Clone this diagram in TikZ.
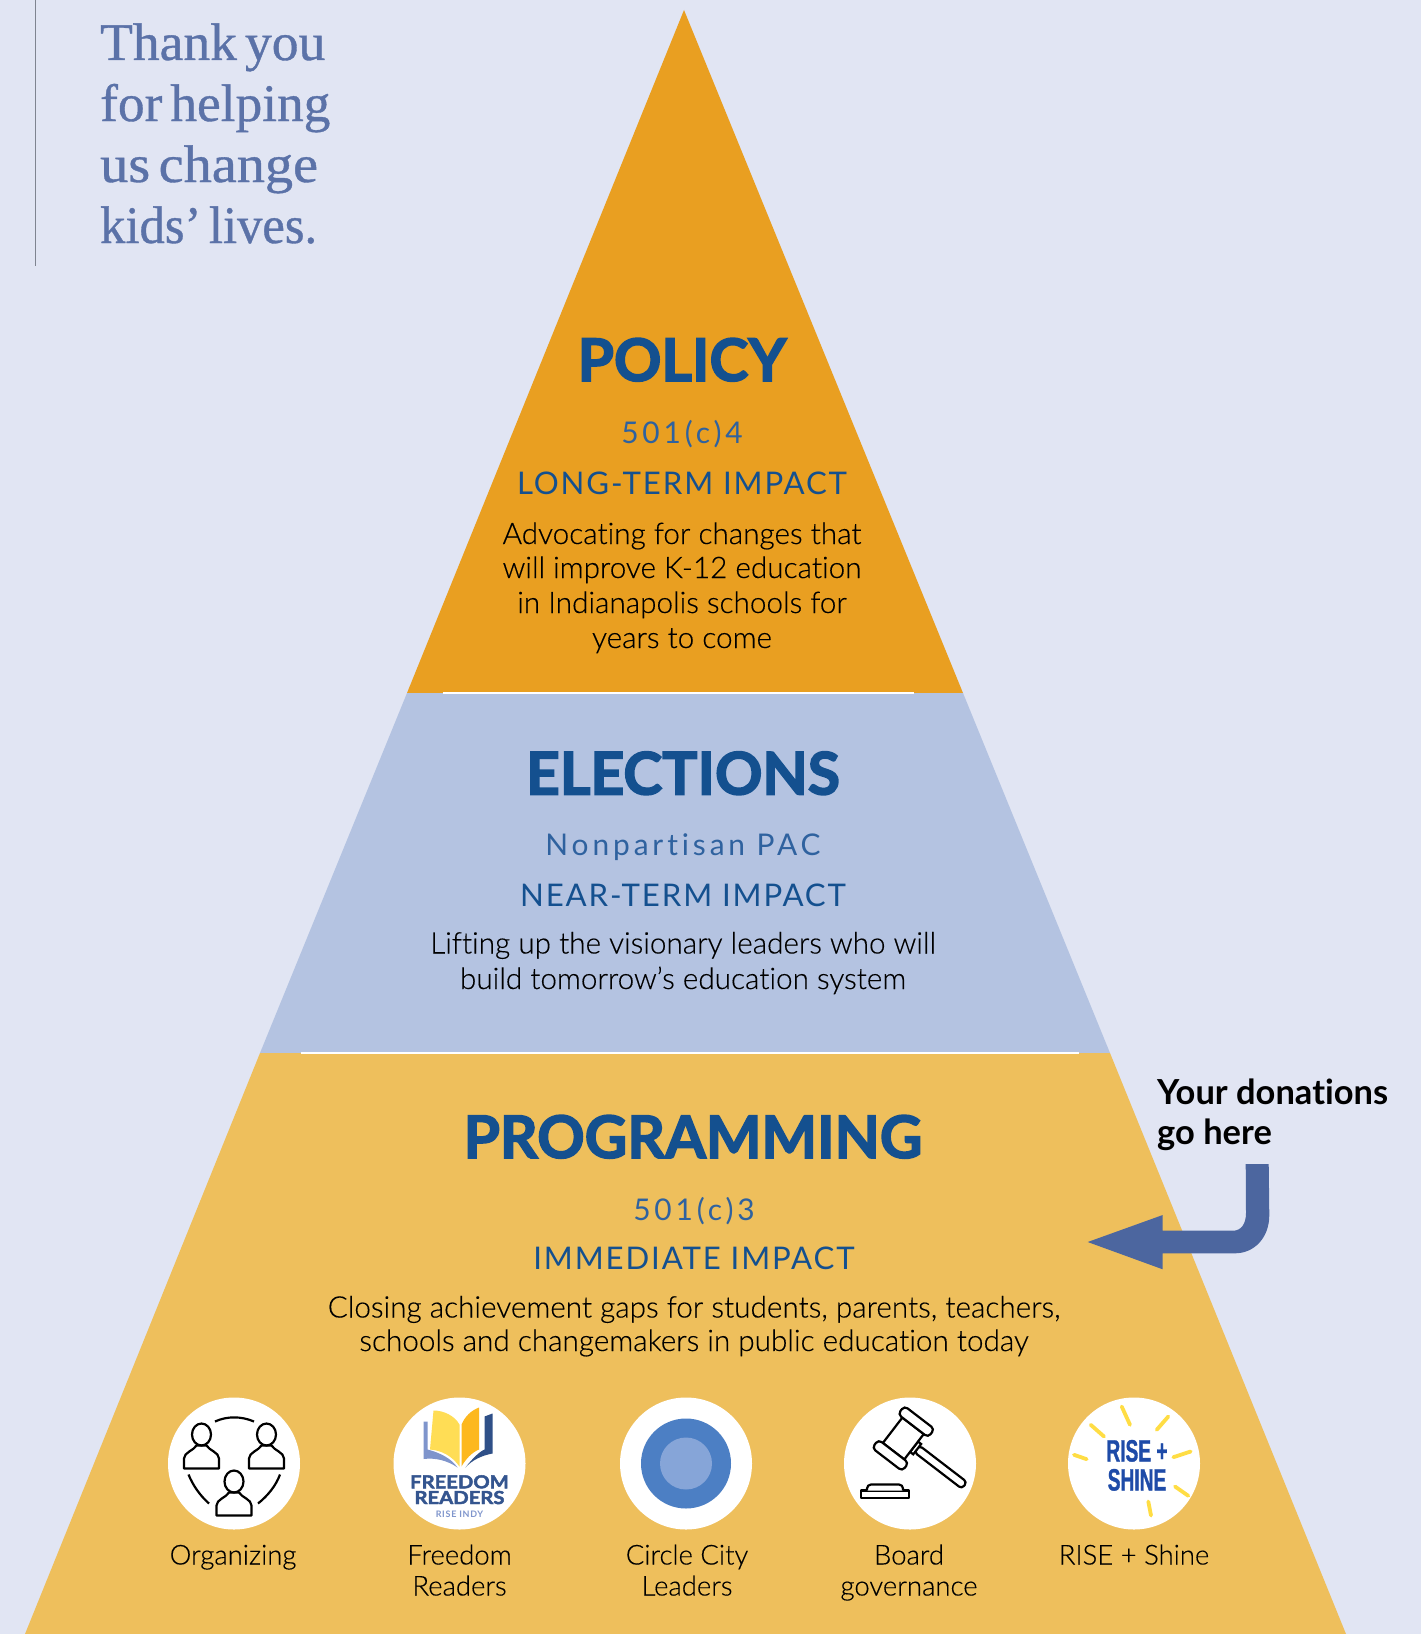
\documentclass[tikz,border=0pt]{standalone}
\usepackage{fontspec}
\setmainfont[Ligatures=NoCommon]{Lato}
\newfontfamily\spacedfont[LetterSpace=6,Ligatures=NoCommon]{Lato}
\newfontfamily\subfont[LetterSpace=13,Ligatures=NoCommon]{Lato}
\newfontfamily\lightfont[Ligatures=NoCommon,FakeBold=0.3]{Lato Light}
\newfontfamily\titlefont[FakeBold=2.6]{Lato Bold}
\newfontfamily\smallheavy[FakeBold=2.5,FakeStretch=1.13]{Lato Bold}
\newfontfamily\tinyheavy[LetterSpace=8]{Lato Bold}
\newfontfamily\serifhead[FakeBold=0.7,WordSpace=0.6]{Liberation Serif}
\newfontfamily\condfont[FakeStretch=0.62,FakeBold=1]{Liberation Sans Bold}
\definecolor{bgc}{HTML}{E1E5F3}
\definecolor{policyc}{HTML}{E99F21}
\definecolor{electc}{HTML}{B4C3E1}
\definecolor{progc}{HTML}{EEBF5C}
\definecolor{titlec}{HTML}{14508F}
\definecolor{subc}{HTML}{2F629F}
\definecolor{arrowc}{HTML}{4C669F}
\definecolor{thankc}{HTML}{5B72A8}
\definecolor{rulec}{HTML}{7F8490}
\definecolor{bookA}{HTML}{FFDD55}
\definecolor{bookB}{HTML}{FDB81E}
\definecolor{bookC}{HTML}{2F5088}
\definecolor{bookD}{HTML}{7F95CC}
\definecolor{frc}{HTML}{34558F}
\definecolor{ccA}{HTML}{4C7FC4}
\definecolor{ccB}{HTML}{86A5D8}
\definecolor{sunc}{HTML}{FFDD44}
\definecolor{risec}{HTML}{1E4BA8}
\newcommand{\fsz}[2]{\fontsize{#1}{#2}\selectfont}
\tikzset{
  lbl/.style={inner sep=0pt,outer sep=0pt,anchor=base,align=center},
  bigtitle/.style={lbl,text=titlec,font=\titlefont\fsz{59}{64}},
  subline/.style={lbl,text=subc,font=\subfont\fsz{30}{34}},
  impact/.style={lbl,text=titlec,font=\spacedfont\fsz{31.3}{34}},
  para/.style={lbl,text=black,font=\lightfont\fsz{29.8}{34}},
  captxt/.style={lbl,text=black,font=\lightfont\fsz{27.6}{31}},
  thanks/.style={inner sep=0pt,anchor=base west,text=thankc,font=\serifhead\fsz{53}{60}},
  disc/.style={circle,fill=white,draw=none,minimum size=132bp,inner sep=0pt},
  ico/.style={line width=2.2bp,draw=black,fill=none},
  ray/.style={line width=3.8bp,draw=sunc,line cap=round},
}
\begin{document}
\begin{tikzpicture}[x=1bp,y=-1bp]
\useasboundingbox (0,0) rectangle (1421,1634);
\fill[bgc] (0,0) rectangle (1421,1634);
% pyramid
\fill[policyc] (684,10) -- (963,693) -- (407,693) -- cycle;
\fill[electc] (963,693) -- (1110,1053) -- (260,1053) -- (407,693) -- cycle;
\fill[progc] (1110,1053) -- (1346,1634) -- (25,1634) -- (260,1053) -- cycle;
\draw[white,line width=1.6bp] (443,693) -- (914,693);
\draw[white,line width=1.6bp] (301,1053) -- (1079,1053);
% rule + thanks
\draw[rulec,line width=1bp] (35,0) -- (35,266);
\node[thanks] (thanka) at (100,60) {\scalebox{1.014}[1]{Thank you}};
\node[thanks] (thankb) at (100,121) {\scalebox{1.01}[1]{for helping}};
\node[thanks] (thankc) at (100,182) {\scalebox{1.066}[1]{us change}};
\node[thanks] (thankd) at (100,243) {\scalebox{0.958}[1]{kids’ lives.}};
% policy
\node[bigtitle] (policy) at (682,381) {POLICY};
\node[subline] (policysub) at (682,443) {501(c)4};
\node[impact] (policyimp) at (682,494) {LONG-TERM IMPACT};
\node[para] (policytxt) at (682,544) {Advocating for changes that};
\node[para] (policytxtb) at (682,578) {will improve K-12 education};
\node[para] (policytxtc) at (682,613) {in Indianapolis schools for};
\node[para] (policytxtd) at (682,648) {years to come};
% elections
\node[bigtitle] (elect) at (683,794.5) {ELECTIONS};
\node[subline] (electsub) at (683,855) {Nonpartisan PAC};
\node[impact] (electimp) at (683,906) {NEAR-TERM IMPACT};
\node[para] (electtxt) at (683,953.5) {Lifting up the visionary leaders who will};
\node[para] (electtxtb) at (683,989) {build tomorrow’s education system};
% programming
\node[bigtitle] (prog) at (693,1158) {PROGRAMMING};
\node[subline] (progsub) at (694,1220) {501(c)3};
\node[impact] (progimp) at (694,1269.5) {IMMEDIATE IMPACT};
\node[para] (progtxt) at (694,1317.5) {Closing achievement gaps for students, parents, teachers,};
\node[para] (progtxtb) at (694,1351) {schools and changemakers in public education today};
% discs
\node[disc] (d1) at (234,1463.5) {};
\node[disc] (d2) at (459.5,1463.5) {};
\node[disc] (d3) at (686,1463.5) {};
\node[disc] (d4) at (910,1463.5) {};
\node[disc] (d5) at (1134,1463.5) {};
% captions
\node[captxt] (c1) at (233,1564.5) {Organizing};
\node[captxt] (c2) at (459.5,1564.5) {Freedom};
\node[captxt] (c2b) at (459.5,1595.5) {Readers};
\node[captxt] (c3) at (687,1564.5) {Circle City};
\node[captxt] (c3b) at (687,1595.5) {Leaders};
\node[captxt] (c4) at (909,1564.5) {Board};
\node[captxt] (c4b) at (909,1595.5) {governance};
\node[captxt] (c5) at (1134,1564.5) {RISE + Shine};
% organizing icon
\begin{scope}[shift={(d1.center)}]
 \foreach \cx/\cy in {-32.5/-29, 32.5/-29, 0/18}{
  \begin{scope}[shift={(\cx,\cy)}]
   \draw[ico] (0,0) ellipse (9.5bp and 11bp);
   \draw[ico,line join=round] (-17.5,34) -- (-17.5,24) .. controls (-17.5,18) and (-8,16) .. (-5,11) -- (5,11) .. controls (8,16) and (17.5,18) .. (17.5,24) -- (17.5,34) -- cycle;
  \end{scope}
 }
 \draw[ico] (-19,-42) .. controls (-7,-47.5) and (7,-47.5) .. (20,-42);
 \draw[ico] (-45.5,11) .. controls (-41,22) and (-34,32) .. (-25,40);
 \draw[ico] (46,11) .. controls (42,22) and (34,32) .. (24,40);
\end{scope}
% freedom readers icon
\begin{scope}[shift={(d2.center)}]
 \fill[bookD] (-36,-42) -- (-32,-42) -- (-32,-14) .. controls (-20,-11) and (-8,-5) .. (-2,4) .. controls (-12,-3) and (-24,-6) .. (-36,-4.5) -- cycle;
 \fill[bookC] (33,-50) -- (33,-10) .. controls (22,-8) and (12,-3) .. (6,4) .. controls (12,-4) and (20,-12) .. (25,-14) -- (25,-47) -- cycle;
 \fill[bookA] (-26,-53) .. controls (-16,-53) and (-5,-48) .. (0,-39) -- (0,3) .. controls (-8,-8) and (-18,-13) .. (-29.5,-14) -- cycle;
 \fill[bookB] (19.5,-56) -- (19.5,-14) .. controls (12,-11) and (6,-4) .. (2,3) -- (2,-39) .. controls (6,-48) and (12,-53) .. (19.5,-56) -- cycle;
 \node[inner sep=0pt,anchor=base,text=frc,text height=8bp,font=\smallheavy\fsz{18}{20}] (frA) at (0,24.8) {FREEDOM};
 \node[inner sep=0pt,anchor=base,text=frc,text height=8bp,font=\smallheavy\fsz{18}{20}] (frB) at (0,40.5) {READERS};
 \node[inner sep=0pt,anchor=base,text=bookD,font=\tinyheavy\fsz{9}{10}] (frC) at (0,53.7) {RISE INDY};
\end{scope}
% circle city icon
\fill[ccA] (d3.center) circle (45bp);
\fill[ccB] (d3.center) circle (26bp);
% gavel icon
\begin{scope}[shift={(d4.center)}]
 \draw[ico,fill=white,line join=round] (-49,27) rectangle (-1,34.7);
 \draw[ico,fill=white,rounded corners=4bp] (-43,27) -- (-43,21) -- (-7,21) -- (-7,27);
 \begin{scope}[shift={(-6.7,-25)},rotate=-37.5]
  \draw[ico,fill=white,rounded corners=3.5bp] (17,-4.2) rectangle (77,4.2);
  \draw[ico,fill=white] (13.5,-6.5) rectangle (17.5,6.5);
  \draw[ico,fill=white] (-13.5,-16) rectangle (13.5,16);
  \draw[ico,fill=white,rounded corners=4bp] (-19,-26.5) rectangle (19,-16);
  \draw[ico,fill=white,rounded corners=4bp] (-19,16) rectangle (19,26.5);
 \end{scope}
\end{scope}
% rise + shine icon
\begin{scope}[shift={(d5.center)}]
 \draw[ray] (-12.3,-57) -- (-4,-38.7);
 \draw[ray] (34.3,-47) -- (22.7,-33.7);
 \draw[ray] (-43.3,-38.7) -- (-30,-27);
 \draw[ray] (56.7,-12) -- (39.3,-6.3);
 \draw[ray] (-60,-8.7) -- (-47.3,-4.3);
 \draw[ray] (41,23) -- (54.3,32.3);
 \draw[ray] (14.3,38) -- (17,52);
 \node[inner sep=0pt,anchor=base,text=risec,font=\condfont\fsz{31}{34}] (rsA) at (3,-2) {RISE +};
 \node[inner sep=0pt,anchor=base,text=risec,font=\condfont\fsz{31}{34}] (rsB) at (3,27) {SHINE};
\end{scope}
% donations
\node[inner sep=0pt,anchor=base west,text=black,font=\bfseries\fsz{34.6}{40}] (don) at (1157,1104) {Your donations};
\node[inner sep=0pt,anchor=base west,text=black,font=\bfseries\fsz{34.6}{40}] (donb) at (1157,1144) {go here};
\fill[arrowc] (1245.7,1164) -- (1268.7,1164) -- (1269.3,1215) .. controls (1269.3,1238) and (1254,1253.3) .. (1235,1253.3) -- (1162.7,1253.3) -- (1162.7,1269.3) -- (1087.7,1242) -- (1162.7,1215) -- (1162.7,1230.7) -- (1233,1230.7) .. controls (1241,1230.7) and (1246,1224) .. (1246,1213) -- cycle;
\end{tikzpicture}
\end{document}
